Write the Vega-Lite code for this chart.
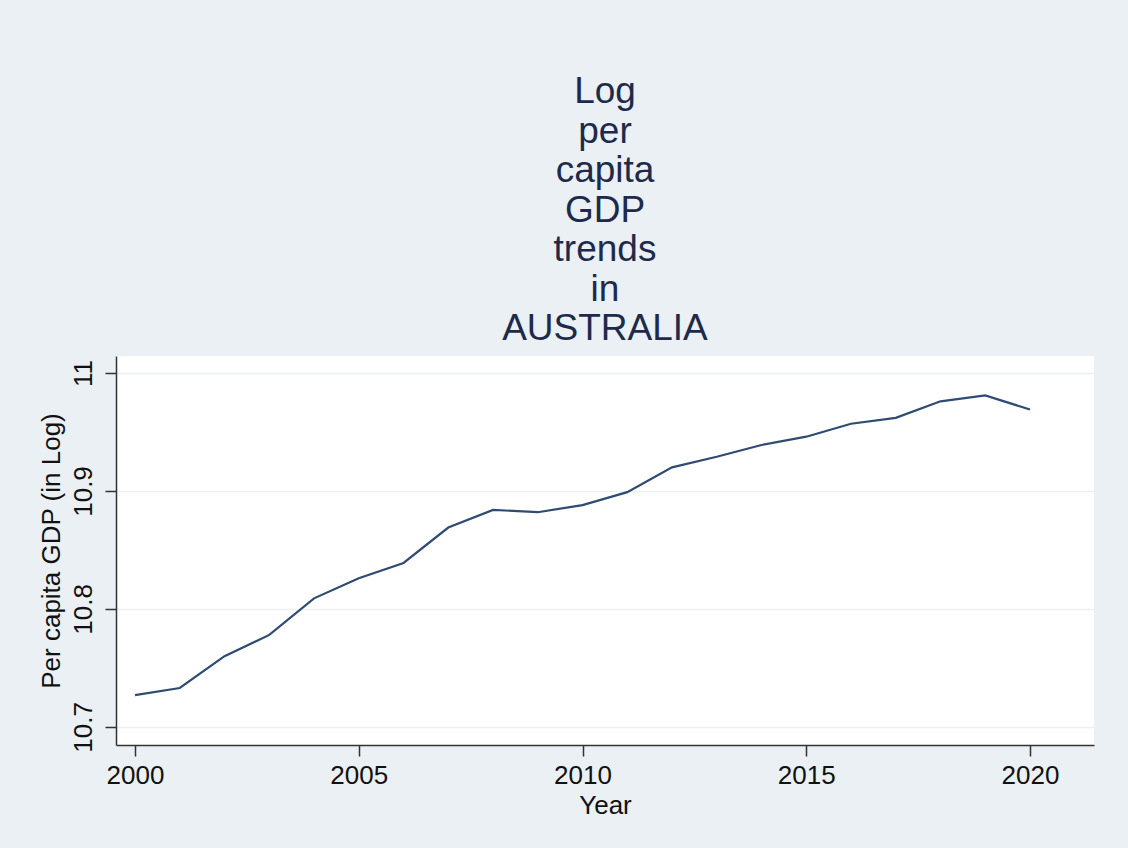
{
  "$schema": "https://vega.github.io/schema/vega-lite/v6.json",
  "autosize": "none",
  "width": 978,
  "height": 389,
  "padding": {"left": 116, "top": 356, "right": 34, "bottom": 103},
  "background": "#EAF0F3",
  "view": {"fill": "white", "stroke": null},
  "title": {
    "text": ["Log", "per", "capita", "GDP", "trends", "in", "AUSTRALIA"],
    "font": "Liberation Sans",
    "fontSize": 37,
    "fontWeight": "normal",
    "lineHeight": 39.5,
    "color": "#1E2A4C",
    "anchor": "middle",
    "offset": 8
  },
  "data": {
    "values": [
      {"Year": 2000, "lngdp": 10.727},
      {"Year": 2001, "lngdp": 10.733},
      {"Year": 2002, "lngdp": 10.760},
      {"Year": 2003, "lngdp": 10.778},
      {"Year": 2004, "lngdp": 10.809},
      {"Year": 2005, "lngdp": 10.826},
      {"Year": 2006, "lngdp": 10.839},
      {"Year": 2007, "lngdp": 10.869},
      {"Year": 2008, "lngdp": 10.884},
      {"Year": 2009, "lngdp": 10.882},
      {"Year": 2010, "lngdp": 10.888},
      {"Year": 2011, "lngdp": 10.899},
      {"Year": 2012, "lngdp": 10.920},
      {"Year": 2013, "lngdp": 10.929},
      {"Year": 2014, "lngdp": 10.939},
      {"Year": 2015, "lngdp": 10.946},
      {"Year": 2016, "lngdp": 10.957},
      {"Year": 2017, "lngdp": 10.962},
      {"Year": 2018, "lngdp": 10.976},
      {"Year": 2019, "lngdp": 10.981},
      {"Year": 2020, "lngdp": 10.969}
    ]
  },
  "mark": {"type": "line", "color": "#2F4B73", "strokeWidth": 2.2},
  "encoding": {
    "x": {
      "field": "Year",
      "type": "quantitative",
      "scale": {"domain": [1999.575, 2021.43], "nice": false, "zero": false},
      "axis": {
        "values": [2000, 2005, 2010, 2015, 2020],
        "format": "d",
        "grid": false,
        "domainColor": "#333333",
        "domainWidth": 1.5,
        "tickColor": "#333333",
        "tickWidth": 1.5,
        "tickSize": 11,
        "labelFont": "Liberation Sans",
        "labelFontSize": 26,
        "labelColor": "#111111",
        "labelPadding": 6,
        "labelFlush": false,
        "title": "Year",
        "titleFont": "Liberation Sans",
        "titleFontSize": 26,
        "titleFontWeight": "normal",
        "titleColor": "#111111",
        "titlePadding": 4
      }
    },
    "y": {
      "field": "lngdp",
      "type": "quantitative",
      "scale": {"domain": [10.6847, 11.0144], "nice": false, "zero": false},
      "axis": {
        "values": [10.7, 10.8, 10.9, 11],
        "labelExpr": "toString(datum.value)",
        "labelAngle": -90,
        "grid": true,
        "gridColor": "#EAF0F3",
        "gridWidth": 1.5,
        "domainColor": "#333333",
        "domainWidth": 1.5,
        "tickColor": "#333333",
        "tickWidth": 1.5,
        "tickSize": 11,
        "labelFont": "Liberation Sans",
        "labelFontSize": 26,
        "labelColor": "#111111",
        "labelPadding": 9,
        "labelFlush": false,
        "title": "Per capita GDP (in Log)",
        "titleFont": "Liberation Sans",
        "titleFontSize": 26,
        "titleFontWeight": "normal",
        "titleColor": "#111111",
        "titlePadding": 6
      }
    }
  }
}
